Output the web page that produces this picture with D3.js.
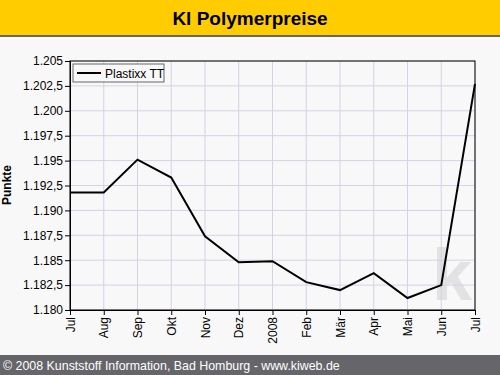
<!DOCTYPE html>
<html>
<head>
<meta charset="utf-8">
<script src="https://cdn.jsdelivr.net/npm/d3@7"></script>
<style>
    body { margin: 0; background: #f8f8f8; }
    svg { display: block; font-family: Arial, "Liberation Sans", sans-serif; }
</style>
</head>
<body>
<div id="chart"></div>
<script>
const months = ["Jul", "Aug", "Sep", "Okt", "Nov", "Dez", "2008", "Feb", "Mär", "Apr", "Mai", "Jun", "Jul"];
const plastixxTT = [1.1918, 1.1918, 1.1951, 1.1933, 1.1874, 1.1848, 1.1849, 1.1828, 1.1820, 1.1837, 1.1812, 1.1825, 1.2027];
const yTicks = [1.180, 1.1825, 1.185, 1.1875, 1.190, 1.1925, 1.195, 1.1975, 1.200, 1.2025, 1.205];

// set the dimensions and margins of the graph
let W = 500, H = 375;
let margin = {top: 61, right: 25, bottom: 65, left: 70},
    width = W - margin.left - margin.right,
    height = H - margin.top - margin.bottom;

let svg = d3.select("#chart")
    .append("svg")
    .attr("width", W)
    .attr("height", H);

svg.append("rect").attr("width", W).attr("height", H).attr("fill", "#f8f8f8");

// title bar
svg.append("rect").attr("width", W).attr("height", 35).attr("fill", "#ffcc00");
svg.append("rect").attr("y", 35).attr("width", W).attr("height", 2).attr("fill", "#666666");
svg.append("text")
    .attr("x", W / 2).attr("y", 25)
    .attr("text-anchor", "middle")
    .style("font-size", "19px").style("font-weight", "bold")
    .text("Kl Polymerpreise");

// footer
svg.append("rect").attr("y", 355).attr("width", W).attr("height", 20).attr("fill", "#66666a");
svg.append("text")
    .attr("x", 3).attr("y", 370)
    .attr("fill", "#ffffff")
    .style("font-size", "12.4px")
    .text("© 2008 Kunststoff Information, Bad Homburg - www.kiweb.de");

let g = svg.append("g")
    .attr("transform", "translate(" + margin.left + "," + margin.top + ")");

let x = d3.scalePoint()
    .domain(d3.range(months.length))
    .range([0, width]);

let y = d3.scaleLinear()
    .domain([1.180, 1.205])
    .range([height, 0]);

// watermark
g.append("text")
    .attr("x", 362).attr("y", 239)
    .attr("fill", "#e2e2e2")
    .style("font-size", "72px").style("font-weight", "bold")
    .text("k");

// grid
g.append("g").selectAll("line")
    .data(yTicks)
    .enter().append("line")
    .attr("x1", 0).attr("x2", width)
    .attr("y1", d => y(d)).attr("y2", d => y(d))
    .attr("stroke", "#d4d2e4");
g.append("g").selectAll("line")
    .data(d3.range(months.length))
    .enter().append("line")
    .attr("x1", d => x(d)).attr("x2", d => x(d))
    .attr("y1", 0).attr("y2", height)
    .attr("stroke", "#d4d2e4");

// frame
g.append("rect")
    .attr("width", width).attr("height", height)
    .attr("fill", "none").attr("stroke", "#000");

// german number format: 1.202,5
let fmtY = d => {
    let s = d.toFixed(4).replace(/0+$/, "");
    if (s.split(".")[1].length < 3) s = d.toFixed(3);
    let parts = s.split(".");
    return parts[0] + "." + parts[1].slice(0, 3) + (parts[1].length > 3 ? "," + parts[1].slice(3) : "");
};

// Y axis
let yAxis = g.append("g")
    .call(d3.axisLeft(y).tickValues(yTicks).tickSize(5).tickFormat(fmtY));
yAxis.select(".domain").attr("stroke", "#000");
yAxis.selectAll("text").style("font-size", "12px").style("font-family", "Arial, 'Liberation Sans', sans-serif").attr("fill", "#000").attr("x", -7);

// X axis
let xAxis = g.append("g")
    .attr("transform", "translate(0," + height + ")")
    .call(d3.axisBottom(x).tickSize(5).tickFormat(i => months[i]));
xAxis.select(".domain").attr("stroke", "#000");
xAxis.selectAll("text")
    .style("font-size", "12px").style("font-family", "Arial, 'Liberation Sans', sans-serif").attr("fill", "#000")
    .attr("transform", "rotate(-90)")
    .attr("x", -7).attr("y", 0).attr("dy", "0.35em")
    .style("text-anchor", "end");

// Y label
svg.append("text")
    .attr("transform", "translate(11,185) rotate(-90)")
    .attr("text-anchor", "middle")
    .style("font-size", "12px").style("font-weight", "bold")
    .text("Punkte");

// line
let line = d3.line()
    .x((d, i) => x(i))
    .y(d => y(d));
g.append("path")
    .datum(plastixxTT)
    .attr("fill", "none")
    .attr("stroke", "#000")
    .attr("stroke-width", 2)
    .attr("d", line);

// legend
let legend = g.append("g").attr("transform", "translate(3,3)");
legend.append("rect")
    .attr("width", 91).attr("height", 18)
    .attr("fill", "#f8f8f8").attr("stroke", "#666");
legend.append("line")
    .attr("x1", 4).attr("x2", 28).attr("y1", 9).attr("y2", 9)
    .attr("stroke", "#000").attr("stroke-width", 2);
legend.append("text")
    .attr("x", 32).attr("y", 13.5)
    .style("font-size", "12px")
    .text("Plastixx TT");
</script>
</body>
</html>
